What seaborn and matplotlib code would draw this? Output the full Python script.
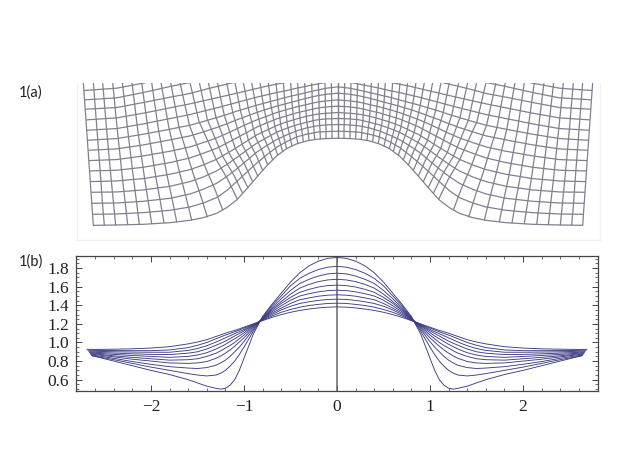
import numpy as np
import pandas as pd
import matplotlib
matplotlib.use("Agg")
import matplotlib.pyplot as plt
import seaborn as sns

sns.set_theme(style="white")

# ---- panel 1(a): mesh (units are 1/3 pixel, mirrored about centre)
centre = 1014
row_grid = [350, 430, 510, 570, 610, 650, 680, 710, 740, 770, 800, 830, 860, 890, 920, 950, 980, 1014]
row_left = [(280, 466), (278, 433), (276, 400), (274, 367), (272, 335), (270, 303), (268, 272),
            (266, 241), (264, 211), (262, 181), (260, 150), (257, 118), (254, 90), (252, 62)]
row_y = [
    [465, 463, 458, 451, 443, 430, 413, 390, 357, 322, 288, 258, 236, 222, 213, 208, 206, 205],
    [432, 428, 421, 411, 399, 383, 362, 335, 307, 280, 255, 232, 215, 201, 193, 187, 185, 184],
    [399, 394, 385, 372, 358, 340, 320, 297, 272, 247, 227, 209, 195, 183, 174, 168, 165, 164],
    [366, 360, 349, 335, 321, 303, 284, 263, 241, 220, 203, 187, 175, 165, 157, 150, 147, 146],
    [333, 326, 313, 299, 285, 268, 251, 233, 214, 195, 181, 167, 156, 147, 139, 133, 130, 128],
    [301, 292, 278, 264, 250, 235, 220, 204, 188, 172, 159, 147, 138, 129, 122, 115, 111, 109],
    [269, 258, 244, 231, 218, 204, 191, 177, 163, 150, 139, 128, 119, 111, 104, 97, 93, 90],
    [237, 225, 210, 198, 186, 173, 162, 150, 139, 128, 118, 109, 101, 93, 85, 78, 73, 70],
    [206, 193, 178, 166, 155, 143, 134, 124, 115, 106, 98, 90, 82, 75, 68, 61, 55, 51],
    [176, 162, 146, 134, 124, 114, 106, 98, 90, 82, 75, 68, 62, 55, 49, 43, 37, 33],
    [144, 130, 114, 102, 93, 84, 77, 70, 63, 56, 49, 43, 37, 31, 26, 21, 17, 15],
    [113, 98, 82, 71, 60, 50, 43, 36, 28, 20, 12, 4],
    [84, 68, 50, 38, 27, 17, 9, 1],
    [55, 40, 20, 7, -5],
]
col_bottom_x = [280, 313, 347, 383, 418, 455, 492, 530, 575, 622, 668, 712, 728, 743, 758, 773,
                788, 803, 818, 833, 848, 860, 876, 893, 910, 927, 944, 961, 978, 996, 1014]
col_bottom_y = [466, 466, 465, 464, 463, 461, 459, 455, 450, 441, 420, 388, 370, 352, 335, 318,
                301, 285, 270, 256, 245, 237, 228, 220, 214, 210, 208, 206, 205, 205, 205]
col_near_x = [275, 307, 340, 375, 409, 444, 480, 516, 558, 601, 644, 684, 701, 717, 735, 752,
              769, 787, 804, 821, 838, 852, 869, 888, 906, 924, 942, 960, 978, 996, 1014]
col_low_x = [270, 302, 333, 367, 400, 433, 467, 501, 540, 578, 616, 650, 668, 686, 706, 727,
             746, 767, 787, 807, 826, 843, 862, 882, 901, 920, 939, 958, 977, 995, 1014]
col_high_x = [260, 291, 320, 352, 383, 413, 444, 475, 507, 537, 568, 597, 622, 648, 673, 699,
              722, 746, 769, 791, 813, 834, 855, 876, 896, 916, 937, 957, 976, 995, 1014]
col_top_x = [250, 280, 308, 338, 367, 396, 425, 455, 483, 512, 540, 570, 598, 625, 652, 680,
             705, 730, 755, 780, 805, 828, 850, 872, 893, 914, 935, 955, 975, 994, 1014]
col_top_y = 38

# ---- panel 1(b): half of each profile, the other half is its mirror image
profile_x = [0, .1, .2, .3, .4, .5, .6, .7, .8, .9, 1.0, 1.05, 1.1, 1.15, 1.2, 1.25, 1.3, 1.4, 1.5, 1.6, 1.8, 2.0, 2.2, 2.4, 2.6]
profiles = [
    [1.915, 1.905, 1.875, 1.825, 1.75, 1.65, 1.53, 1.41, 1.28, 1.09, .83, .70, .60, .54, .508, .498, .507, .53, .565, .60, .655, .70, .75, .80, .85],
    [1.82, 1.81, 1.785, 1.745, 1.69, 1.61, 1.50, 1.395, 1.27, 1.12, .95, .87, .80, .745, .70, .67, .65, .64, .65, .665, .70, .735, .775, .815, .852],
    [1.746, 1.738, 1.715, 1.68, 1.635, 1.56, 1.47, 1.375, 1.265, 1.14, 1.01, .95, .90, .85, .81, .78, .755, .73, .72, .725, .74, .765, .795, .83, .86],
    [1.68, 1.673, 1.655, 1.625, 1.585, 1.52, 1.44, 1.36, 1.26, 1.155, 1.05, 1.005, .96, .92, .885, .855, .83, .795, .78, .775, .78, .80, .82, .845, .87],
    [1.617, 1.612, 1.597, 1.572, 1.54, 1.485, 1.42, 1.345, 1.255, 1.17, 1.08, 1.04, 1.0, .968, .94, .91, .885, .85, .825, .815, .81, .825, .84, .857, .877],
    [1.563, 1.558, 1.545, 1.525, 1.50, 1.455, 1.395, 1.33, 1.25, 1.18, 1.105, 1.07, 1.04, 1.01, .98, .955, .93, .89, .865, .85, .84, .85, .86, .872, .885],
    [1.513, 1.509, 1.498, 1.48, 1.46, 1.42, 1.37, 1.315, 1.25, 1.185, 1.125, 1.097, 1.07, 1.042, 1.015, .992, .97, .93, .90, .885, .87, .872, .878, .886, .894],
    [1.466, 1.463, 1.453, 1.438, 1.42, 1.39, 1.35, 1.30, 1.245, 1.19, 1.14, 1.117, 1.095, 1.072, 1.05, 1.027, 1.005, .965, .935, .915, .895, .895, .897, .90, .905],
    [1.423, 1.42, 1.41, 1.398, 1.38, 1.355, 1.325, 1.285, 1.24, 1.195, 1.155, 1.135, 1.115, 1.097, 1.08, 1.06, 1.04, 1.0, .97, .945, .92, .912, .912, .913, .915],
    [1.383, 1.38, 1.372, 1.36, 1.345, 1.325, 1.30, 1.27, 1.235, 1.20, 1.165, 1.147, 1.13, 1.115, 1.10, 1.082, 1.065, 1.03, 1.005, .985, .955, .94, .932, .928, .925],
]
end_x = [2.63, 2.64, 2.645, 2.65, 2.655, 2.66, 2.665, 2.67, 2.68, 2.69]
end_y = [.855, .862, .87, .878, .885, .892, .90, .908, .917, .927]

xticks = [-2, -1, 0, 1, 2]
xtick_labels = ["\u22122", "\u22121", "0", "1", "2"]
yticks = [0.6, 0.8, 1.0, 1.2, 1.4, 1.6, 1.8]
ytick_labels = ["0.6", "0.8", "1.0", "1.2", "1.4", "1.6", "1.8"]

# long tables for seaborn
mesh = []
n = 0
for (lx, ly), ys in zip(row_left, row_y):
    xs = [lx] + row_grid[:len(ys)]
    yy = [ly] + ys
    mesh += [(n, x, y) for x, y in zip(xs, yy)]
    mesh += [(n + 1, 2 * centre - x, y) for x, y in zip(xs, yy)]
    n += 2
for bx, by, nr, lo, hi, tx in zip(col_bottom_x, col_bottom_y, col_near_x, col_low_x, col_high_x, col_top_x):
    xs = [bx, nr, lo, hi, tx]
    span = col_top_y - by
    yy = [by, by + span / 6, by + span / 3, by + 2 * span / 3, col_top_y]
    mesh += [(n, x, y) for x, y in zip(xs, yy)]
    mesh += [(n + 1, 2 * centre - x, y) for x, y in zip(xs, yy)]
    n += 2
mesh = pd.DataFrame(mesh, columns=["line", "x", "y"])

prof = []
for i, ys in enumerate(profiles):
    half = list(zip(profile_x + [end_x[i]], ys + [end_y[i]]))
    for x, y in half[::-1]:
        prof.append((i, -x, y))
    for x, y in half[1:]:
        prof.append((i, x, y))
prof = pd.DataFrame(prof, columns=["curve", "x", "y"])

W, H = 628, 471
fig = plt.figure(figsize=(W / 100, H / 100), dpi=100, facecolor="white")


def box(l, t, r, b):
    return [l / W, 1 - b / H, (r - l) / W, (b - t) / H]


# 1(a)
ax1 = fig.add_axes(box(77, 82.5, 600, 240))
sns.lineplot(data=mesh, x="x", y="y", units="line", estimator=None, sort=False,
             color="#80808f", lw=0.9, ax=ax1)
ax1.set_xlim(231, 1800)
ax1.set_ylim(510, 38)
ax1.set(xlabel="", ylabel="", xticks=[], yticks=[])
for s in ax1.spines.values():
    s.set_color("#f0f0f0")
    s.set_linewidth(1)
ax1.spines["top"].set_visible(False)

# 1(b)
ax2 = fig.add_axes(box(76, 255.5, 598, 391))
ax2.axvline(0, color="#666666", lw=1.1)
sns.lineplot(data=prof, x="x", y="y", units="curve", estimator=None, sort=False,
             color="#3c3c84", lw=0.65, ax=ax2)
ax2.set_xlim(-2.806, 2.806)
ax2.set_ylim(0.478, 1.936)
ax2.set(xlabel="", ylabel="")
ax2.set_xticks(xticks)
ax2.set_xticklabels(xtick_labels)
ax2.set_yticks(yticks)
ax2.set_yticklabels(ytick_labels)
ax2.set_xticks(np.arange(-2.6, 2.7, 0.2), minor=True)
ax2.set_yticks(np.arange(0.5, 1.95, 0.05), minor=True)
ax2.tick_params(which="major", direction="in", length=4, width=0.7, color="#444444",
                top=True, right=True, bottom=True, left=True, labelsize=12.5, labelcolor="#222222")
ax2.tick_params(which="minor", direction="in", length=2, width=0.6, color="#555555",
                top=True, right=True, bottom=True, left=True)
ax2.tick_params(axis="x", which="major", pad=6)
ax2.tick_params(axis="y", which="major", pad=5)
for lab in ax2.get_xticklabels() + ax2.get_yticklabels():
    lab.set_family("Liberation Serif")
for s in ax2.spines.values():
    s.set_color("#444444")
    s.set_linewidth(0.9)

fig.text(19 / W, 1 - 93 / H, "1(a)", family="Lato", fontsize=10.5, va="center", color="#222222")
fig.text(19 / W, 1 - 262 / H, "1(b)", family="Lato", fontsize=10.5, va="center", color="#222222")

fig.savefig("out.png", dpi=100)
